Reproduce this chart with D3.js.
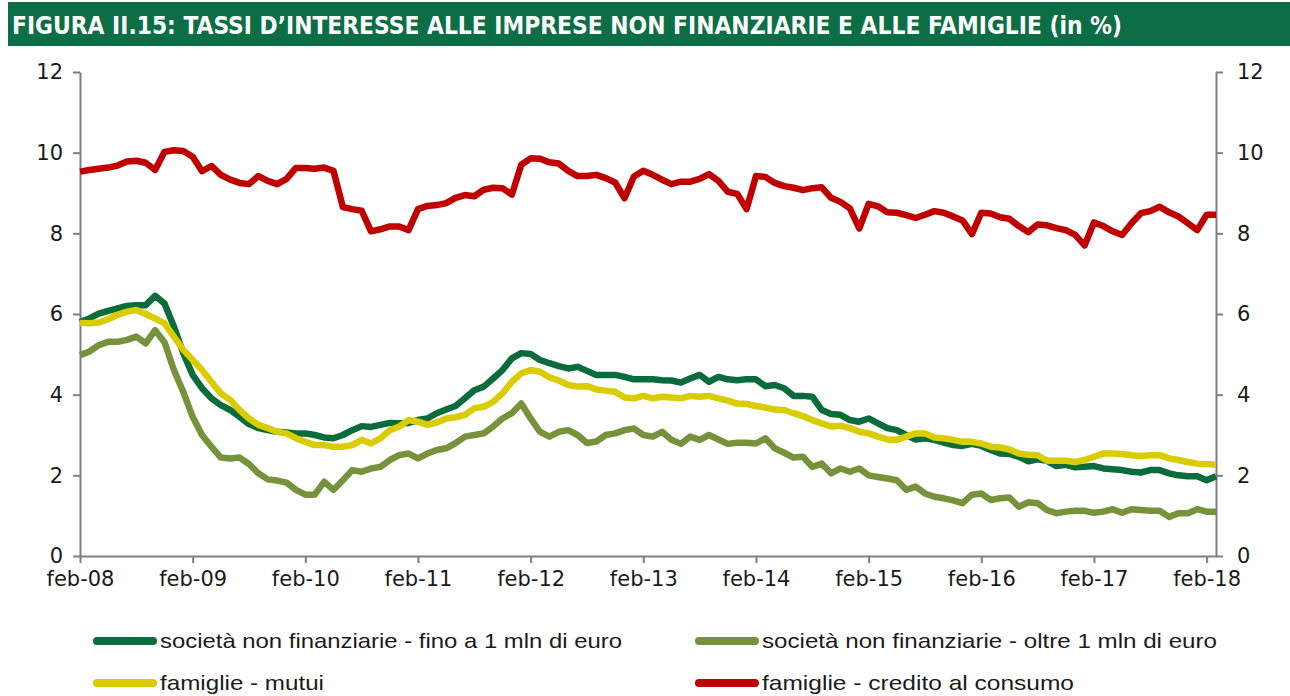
<!DOCTYPE html>
<html>
<head>
<meta charset="utf-8">
<script src="https://cdn.jsdelivr.net/npm/d3@7"></script>
<style>
  body { margin: 0; background: #fff; }
  svg { display: block; }
  .tick text { font-family: "DejaVu Sans", sans-serif; font-size: 21px; fill: #1a1a1a; }
</style>
</head>
<body>
<div id="chart"></div>
<script>
// tick labels on the x axis, one per year
const yearLabels = ["feb-08", "feb-09", "feb-10", "feb-11", "feb-12", "feb-13", "feb-14", "feb-15", "feb-16", "feb-17", "feb-18"];
const yTicks = [0, 2, 4, 6, 8, 10, 12];

// monthly series, feb-08 .. mar-18
const fino1mln = [5.80, 5.89, 6.01, 6.08, 6.14, 6.20, 6.22, 6.22, 6.45, 6.26, 5.69, 5.03, 4.49, 4.16, 3.91, 3.74, 3.62, 3.45, 3.27, 3.17, 3.12,
  3.08, 3.06, 3.04, 3.04, 3.00, 2.94, 2.92, 3.00, 3.12, 3.22, 3.20, 3.25, 3.30, 3.29, 3.30, 3.37, 3.41, 3.54, 3.63, 3.72,
  3.91, 4.11, 4.20, 4.40, 4.61, 4.90, 5.03, 5.01, 4.86, 4.78, 4.71, 4.65, 4.69, 4.59, 4.49, 4.49, 4.49, 4.44, 4.38, 4.38,
  4.38, 4.36, 4.35, 4.30, 4.40, 4.49, 4.32, 4.44, 4.38, 4.36, 4.38, 4.38, 4.21, 4.24, 4.16, 3.97, 3.97, 3.95, 3.62, 3.52,
  3.50, 3.37, 3.33, 3.41, 3.29, 3.17, 3.12, 3.00, 2.89, 2.92, 2.88, 2.81, 2.75, 2.73, 2.78, 2.73, 2.63, 2.54, 2.53, 2.46, 2.35,
  2.40, 2.36, 2.23, 2.26, 2.20, 2.21, 2.23, 2.17, 2.15, 2.13, 2.09, 2.07, 2.13, 2.13, 2.05, 2.00, 1.98, 1.98, 1.88, 1.98];

const oltre1mln = [4.98, 5.07, 5.23, 5.31, 5.31, 5.36, 5.44, 5.27, 5.60, 5.30, 4.61, 4.07, 3.45, 3.00, 2.71, 2.44, 2.42, 2.44, 2.28, 2.05, 1.90,
  1.87, 1.82, 1.64, 1.52, 1.52, 1.84, 1.64, 1.88, 2.13, 2.09, 2.17, 2.21, 2.38, 2.50, 2.54, 2.42, 2.54, 2.63, 2.67, 2.80,
  2.96, 3.00, 3.04, 3.21, 3.41, 3.54, 3.78, 3.41, 3.08, 2.96, 3.08, 3.12, 3.00, 2.80, 2.84, 3.00, 3.04, 3.12, 3.16, 3.00,
  2.96, 3.08, 2.88, 2.78, 2.96, 2.88, 3.00, 2.89, 2.78, 2.81, 2.81, 2.79, 2.92, 2.67, 2.56, 2.44, 2.46, 2.21, 2.29, 2.05,
  2.17, 2.09, 2.17, 2.00, 1.96, 1.92, 1.88, 1.64, 1.72, 1.55, 1.47, 1.43, 1.38, 1.31, 1.52, 1.55, 1.39, 1.43, 1.45, 1.22, 1.33,
  1.31, 1.14, 1.06, 1.10, 1.12, 1.12, 1.07, 1.10, 1.16, 1.07, 1.16, 1.14, 1.12, 1.12, 0.97, 1.06, 1.06, 1.16, 1.10, 1.10];

const mutui = [5.78, 5.77, 5.79, 5.87, 5.98, 6.06, 6.10, 6.00, 5.89, 5.77, 5.44, 5.11, 4.86, 4.61, 4.32, 4.03, 3.87, 3.62, 3.41, 3.25, 3.17,
  3.08, 3.04, 2.92, 2.83, 2.75, 2.75, 2.71, 2.71, 2.75, 2.88, 2.79, 2.92, 3.12, 3.21, 3.37, 3.33, 3.25, 3.31, 3.41, 3.44,
  3.50, 3.66, 3.70, 3.82, 4.03, 4.32, 4.53, 4.61, 4.57, 4.43, 4.35, 4.24, 4.20, 4.21, 4.13, 4.10, 4.07, 3.93, 3.91, 3.97,
  3.91, 3.95, 3.93, 3.91, 3.97, 3.95, 3.97, 3.91, 3.85, 3.78, 3.77, 3.72, 3.68, 3.63, 3.62, 3.54, 3.47, 3.37, 3.29, 3.21,
  3.23, 3.17, 3.08, 3.04, 2.96, 2.89, 2.88, 2.96, 3.04, 3.04, 2.94, 2.92, 2.88, 2.83, 2.83, 2.79, 2.71, 2.69, 2.64, 2.54, 2.51,
  2.50, 2.36, 2.36, 2.36, 2.33, 2.38, 2.46, 2.54, 2.54, 2.53, 2.50, 2.48, 2.50, 2.50, 2.42, 2.38, 2.33, 2.29, 2.28, 2.26];

const creditoConsumo = [9.53, 9.57, 9.60, 9.63, 9.68, 9.78, 9.80, 9.75, 9.57, 10.02,
  10.06, 10.04, 9.90, 9.54, 9.67, 9.45, 9.33, 9.25, 9.22, 9.42,
  9.30, 9.22, 9.35, 9.62, 9.62, 9.60, 9.63, 9.55, 8.65, 8.60,
  8.56, 8.05, 8.10, 8.17, 8.17, 8.08, 8.60, 8.68, 8.70, 8.75,
  8.88, 8.95, 8.92, 9.08, 9.13, 9.12, 8.96, 9.70, 9.86, 9.85,
  9.76, 9.73, 9.55, 9.42, 9.42, 9.45, 9.37, 9.26, 8.87, 9.41,
  9.55, 9.45, 9.33, 9.22, 9.28, 9.28, 9.35, 9.47, 9.30, 9.03,
  8.98, 8.60, 9.42, 9.40, 9.25, 9.17, 9.13, 9.07, 9.12, 9.14,
  8.88, 8.78, 8.62, 8.12, 8.73, 8.67, 8.52, 8.51, 8.45, 8.38,
  8.46, 8.55, 8.51, 8.42, 8.32, 7.98, 8.51, 8.49, 8.40, 8.36,
  8.18, 8.03, 8.22, 8.20, 8.13, 8.08, 7.96, 7.70, 8.27, 8.18,
  8.05, 7.96, 8.25, 8.50, 8.55, 8.66, 8.52, 8.42, 8.25, 8.08,
  8.46, 8.46];

const seriesNames = ["società non finanziarie - fino a 1 mln di euro", "società non finanziarie - oltre 1 mln di euro",
  "famiglie - mutui", "famiglie - credito al consumo"];
const seriesColors = ["#0a6b3b", "#76933c", "#d9cc00", "#c00000"];
const seriesData = [fino1mln, oltre1mln, mutui, creditoConsumo];

const W = 1290, H = 696;
const svg = d3.select("#chart").append("svg").attr("width", W).attr("height", H);

// title bar
svg.append("rect").attr("x", 8).attr("y", 2).attr("width", W - 8).attr("height", 44).attr("fill", "#0b6e45");
svg.append("text")
  .attr("x", 12).attr("y", 34)
  .attr("textLength", 1110).attr("lengthAdjust", "spacingAndGlyphs")
  .style("font-family", "'Liberation Sans Narrow', 'DejaVu Sans Condensed', 'Arial Narrow', sans-serif")
  .style("font-weight", "bold").style("font-size", "25px").attr("fill", "#fff")
  .text("FIGURA II.15: TASSI D\u2019INTERESSE ALLE IMPRESE NON FINANZIARIE E ALLE FAMIGLIE (in %)");

const plotLeft = 80, plotRight = 1216, plotTop = 72, plotBottom = 556;
const nPoints = creditoConsumo.length;
const x = d3.scaleLinear().domain([0, nPoints - 1]).range([plotLeft, plotRight]);
const y = d3.scaleLinear().domain([0, 12]).range([plotBottom, plotTop]);

const axisColor = "#7f7f7f";
function styleAxis (g) {
  g.select(".domain").attr("stroke", axisColor).attr("stroke-width", 2);
  g.selectAll(".tick line").attr("stroke", axisColor).attr("stroke-width", 2);
}

svg.append("g").attr("transform", `translate(${plotLeft},0)`)
  .call(d3.axisLeft(y).tickValues(yTicks).tickSize(7).tickSizeOuter(0).tickPadding(10))
  .call(styleAxis);
svg.append("g").attr("transform", `translate(${plotRight},0)`)
  .call(d3.axisRight(y).tickValues(yTicks).tickSize(7).tickSizeOuter(0).tickPadding(14))
  .call(styleAxis);
svg.append("g").attr("transform", `translate(0,${plotBottom})`)
  .call(d3.axisBottom(x).tickValues(yearLabels.map((d, i) => i * 12)).tickFormat((d) => yearLabels[d / 12])
    .tickSize(7).tickSizeOuter(0).tickPadding(8))
  .call(styleAxis);

// lines
const line = d3.line().x((d, i) => x(i)).y((d) => y(d));
seriesData.forEach(function (data, k) {
  svg.append("path")
    .datum(data)
    .attr("fill", "none")
    .attr("stroke", seriesColors[k])
    .attr("stroke-width", 6.5)
    .attr("stroke-linejoin", "round")
    .attr("d", line);
});

// legend
const legendPos = [[93, 641], [695, 641], [93, 683], [695, 683]];
const legendWidths = [462, 455, 164, 312];
seriesNames.forEach(function (name, k) {
  let [lx, ly] = legendPos[k];
  svg.append("line")
    .attr("x1", lx + 4).attr("x2", lx + 60).attr("y1", ly).attr("y2", ly)
    .attr("stroke", seriesColors[k]).attr("stroke-width", 8).attr("stroke-linecap", "round");
  svg.append("text")
    .attr("x", lx + 67).attr("y", ly).attr("dy", "0.35em")
    .attr("textLength", legendWidths[k]).attr("lengthAdjust", "spacingAndGlyphs")
    .style("font-family", "'Liberation Sans', Arial, sans-serif").style("font-size", "21px").attr("fill", "#1a1a1a")
    .text(name);
});
</script>
</body>
</html>
